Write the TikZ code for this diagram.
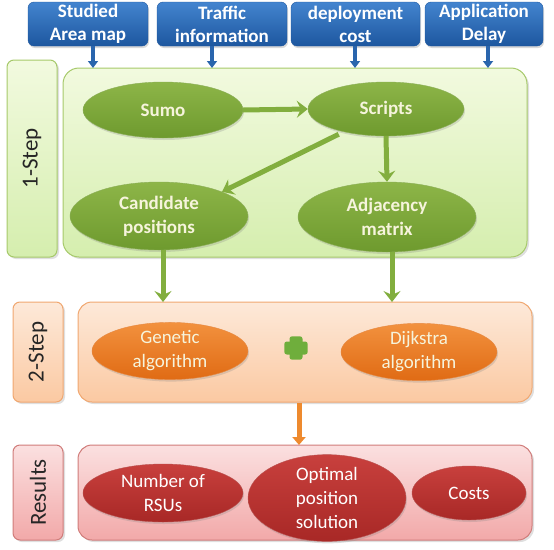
\documentclass[tikz,border=0pt]{standalone}
\usepackage{fontspec}
\setmainfont{Carlito}
\usetikzlibrary{shapes.geometric,arrows.meta,shadows,positioning}
\definecolor{blueA}{HTML}{4384CF}
\definecolor{blueB}{HTML}{1D579F}
\definecolor{blueE}{HTML}{2A65AD}
\definecolor{grFillA}{HTML}{F2FADF}
\definecolor{grFillB}{HTML}{D5EEAE}
\definecolor{grLine}{HTML}{A6C96A}
\definecolor{grEllA}{HTML}{8DB548}
\definecolor{grEllB}{HTML}{6E9A2E}
\definecolor{grArrow}{HTML}{82AE3E}
\definecolor{orFillA}{HTML}{FDE9D9}
\definecolor{orFillB}{HTML}{FBC9A2}
\definecolor{orLine}{HTML}{F0A770}
\definecolor{orEllA}{HTML}{F2913E}
\definecolor{orEllB}{HTML}{E06B14}
\definecolor{orArrow}{HTML}{EE8A2E}
\definecolor{rdFillA}{HTML}{FBE0E0}
\definecolor{rdFillB}{HTML}{F2A9A9}
\definecolor{rdLine}{HTML}{D07C7A}
\definecolor{rdEllA}{HTML}{C8403D}
\definecolor{rdEllB}{HTML}{A82826}
\definecolor{plusgreen}{HTML}{6FAE3C}
\definecolor{creamtext}{HTML}{F6F4DC}
\tikzset{
  inbox/.style={rounded corners=6pt, draw=blueB, top color=blueA, bottom color=blueB,
    text=white, font=\bfseries\fontsize{19}{23}\selectfont, align=center, inner sep=0pt,
    drop shadow={opacity=0.3,shadow xshift=1pt,shadow yshift=-2pt}},
  greenbox/.style={rounded corners=16pt, draw=grLine, line width=1pt, top color=grFillA, bottom color=grFillB,
    drop shadow={opacity=0.25,shadow xshift=2pt,shadow yshift=-2pt}},
  orangebox/.style={rounded corners=14pt, draw=orLine, line width=1pt, top color=orFillA, bottom color=orFillB,
    drop shadow={opacity=0.25,shadow xshift=2pt,shadow yshift=-2pt}},
  redbox/.style={rounded corners=14pt, draw=rdLine, line width=1pt, top color=rdFillA, bottom color=rdFillB,
    drop shadow={opacity=0.25,shadow xshift=2pt,shadow yshift=-2pt}},
  lblgreen/.style={rounded corners=7pt, draw=grLine, line width=1pt, top color=grFillA, bottom color=grFillB,
    drop shadow={opacity=0.25,shadow xshift=2pt,shadow yshift=-2pt}},
  lblorange/.style={rounded corners=7pt, draw=orLine, line width=1pt, top color=orFillA, bottom color=orFillB,
    drop shadow={opacity=0.25,shadow xshift=2pt,shadow yshift=-2pt}},
  lblred/.style={rounded corners=7pt, draw=rdLine, line width=1pt, top color=rdFillA, bottom color=rdFillB,
    drop shadow={opacity=0.25,shadow xshift=2pt,shadow yshift=-2pt}},
  lbltext/.style={rotate=90, font=\fontsize{23}{25}\selectfont, text=black!85},
  gell/.style={ellipse, inner sep=0pt, top color=grEllA, bottom color=grEllB, draw=grEllB!80,
    text=creamtext, font=\bfseries\fontsize{19}{24}\selectfont, align=center,
    drop shadow={opacity=0.25,shadow xshift=1pt,shadow yshift=-2pt}},
  oell/.style={ellipse, inner sep=0pt, top color=orEllA, bottom color=orEllB, draw=orEllB!80,
    text=creamtext, font=\fontsize{19}{24}\selectfont, align=center,
    drop shadow={opacity=0.25,shadow xshift=1pt,shadow yshift=-2pt}},
  rell/.style={ellipse, inner sep=0pt, top color=rdEllA, bottom color=rdEllB, draw=rdEllB!80,
    text=white, font=\fontsize{19}{24}\selectfont, align=center,
    drop shadow={opacity=0.25,shadow xshift=1pt,shadow yshift=-2pt}},
  bluearrow/.style={draw=blueE, line width=3.5pt, -{Triangle[width=10pt,length=7pt]}},
  greenarrow/.style={draw=grArrow, line width=5pt, -{Stealth[width=17pt,length=11pt,inset=4pt]}},
  orangearrow/.style={draw=orArrow, line width=5pt, -{Triangle[width=13pt,length=8pt]}},
}
\begin{document}
\begin{tikzpicture}[x=1pt,y=-1pt]
\useasboundingbox (0,0) rectangle (554,549);
% input boxes
\node[inbox, minimum width=120pt, minimum height=44pt] (b1) at (88,24) {Studied\\Area map};
\node[inbox, minimum width=130pt, minimum height=44pt] (b2) at (222,24) {Traffic\\information};
\node[inbox, minimum width=129pt, minimum height=44pt] (b3) at (355.5,24) {deployment\\cost};
\node[inbox, minimum width=118pt, minimum height=44pt] (b4) at (484,24) {Application\\Delay};
% step 1
\node[lblgreen, minimum width=50pt, minimum height=197pt] (s1) at (32,158.5) {};
\node[lbltext] (s1t) at (s1.center) {1-Step};
\node[greenbox, minimum width=464pt, minimum height=189pt] (g) at (295,162.5) {};
\coordinate (t1) at (93,68);
\coordinate (t2) at (212,68);
\coordinate (t3) at (355,68);
\coordinate (t4) at (488,68);
\draw[bluearrow] (b1.south -| t1) -- (t1);
\draw[bluearrow] (b2.south -| t2) -- (t2);
\draw[bluearrow] (b3.south -| t3) -- (t3);
\draw[bluearrow] (b4.south -| t4) -- (t4);
\node[gell, minimum width=160pt, minimum height=56pt] (sumo) at (163,110) {Sumo};
\node[gell, minimum width=156pt, minimum height=54pt] (scripts) at (386,109) {Scripts};
\node[gell, minimum width=178pt, minimum height=68pt] (cand) at (159,216) {Candidate\\positions};
\node[gell, minimum width=178pt, minimum height=70pt] (adj) at (387,217) {Adjacency\\matrix};
\draw[greenarrow] (sumo.east) -- (scripts.west);
\draw[greenarrow] (scripts.south west) ++(8pt,-6pt) coordinate (sd) (sd) -- (cand.north east);
\draw[greenarrow] (scripts.south) -- (adj.north);
% step 2
\node[lblorange, minimum width=50pt, minimum height=100pt] (s2) at (38,352) {};
\node[lbltext] (s2t) at (s2.center) {2-Step};
\node[orangebox, minimum width=454pt, minimum height=100pt] (o) at (305,352) {};
\coordinate (u1) at (163,302);
\coordinate (u2) at (392,302);
\draw[greenarrow] (cand.south -| u1) -- (u1);
\draw[greenarrow] (adj.south -| u2) -- (u2);
\node[oell, minimum width=156pt, minimum height=56pt] (gen) at (170,351) {Genetic\\algorithm};
\node[oell, minimum width=156pt, minimum height=56pt] (dij) at (419,352) {Dijkstra\\algorithm};
\node[inner sep=0pt, minimum size=23pt] (plus) at (296,348) {};
\fill[plusgreen, rounded corners=2.5pt] ([xshift=-6.5pt]plus.north) rectangle ([xshift=6.5pt]plus.south);
\fill[plusgreen, rounded corners=2.5pt] ([yshift=6.5pt]plus.west) rectangle ([yshift=-6.5pt]plus.east);
% results
\node[lblred, minimum width=50pt, minimum height=95pt] (s3) at (38,492.5) {};
\node[lbltext] (s3t) at (s3.center) {Results};
\node[redbox, minimum width=454pt, minimum height=95pt] (r) at (305,492.5) {};
\coordinate (v1) at (299,445);
\draw[orangearrow] (o.south -| v1) -- (v1);
\node[rell, minimum width=160pt, minimum height=58pt] (num) at (163,493) {Number of\\RSUs};
\node[rell, minimum width=158pt, minimum height=76pt] (opt) at (327,498) {Optimal\\position\\solution};
\node[rell, minimum width=114pt, minimum height=54pt] (cost) at (469,493) {Costs};
\end{tikzpicture}
\end{document}
